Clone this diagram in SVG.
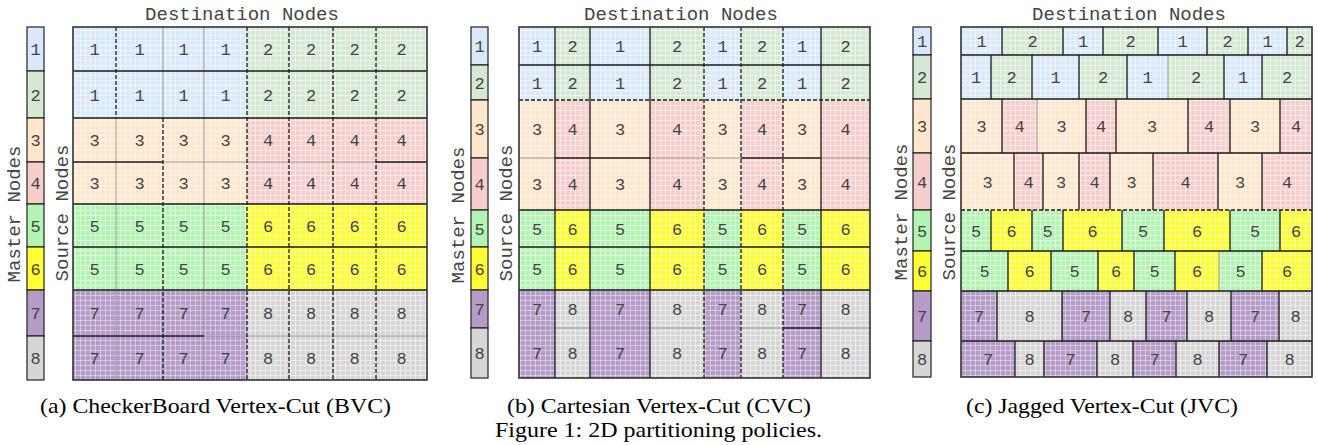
<svg xmlns="http://www.w3.org/2000/svg" width="1318" height="445" viewBox="0 0 1318 445">
<style>
.t{font-family:"Liberation Mono","DejaVu Sans Mono",monospace;font-size:17px;fill:#444;text-anchor:middle}
.h{font-family:"Liberation Mono","DejaVu Sans Mono",monospace;font-size:19px;fill:#444;text-anchor:middle}
.cap{font-family:"Liberation Serif","Times New Roman",serif;font-size:21.5px;fill:#000;text-anchor:middle}
.f1{fill:url(#p1)}.f2{fill:url(#p2)}.f3{fill:url(#p3)}.f4{fill:url(#p4)}.f5{fill:url(#p5)}.f6{fill:url(#p6)}.f7{fill:url(#p7)}.f8{fill:url(#p8)}
.m{stroke:#222;stroke-width:1.2}
.m1{fill:#dae8fc}.m2{fill:#d5e8d4}.m3{fill:#ffe6cc}.m4{fill:#f8cecc}.m5{fill:#b2f5b2}.m6{fill:#ffff33}.m7{fill:#b59cc8}.m8{fill:#d6d6d6}
.s{fill:none;stroke:#1a1a1a;stroke-width:1.3}
.d{fill:none;stroke:#1a1a1a;stroke-width:1.3;stroke-dasharray:4 2}
.g{fill:none;stroke:#9a9a9a;stroke-width:1}
.o{fill:none;stroke:#333;stroke-width:1.6}
</style>
<defs>
<pattern id="p1" width="5" height="5" patternUnits="userSpaceOnUse"><rect width="5" height="5" fill="#dae8fc"/><path d="M0 .5H5M.5 0V5" stroke="#fff" stroke-opacity=".5"/></pattern>
<pattern id="p2" width="5" height="5" patternUnits="userSpaceOnUse"><rect width="5" height="5" fill="#d5e8d4"/><path d="M0 .5H5M.5 0V5" stroke="#fff" stroke-opacity=".5"/></pattern>
<pattern id="p3" width="5" height="5" patternUnits="userSpaceOnUse"><rect width="5" height="5" fill="#ffe6cc"/><path d="M0 .5H5M.5 0V5" stroke="#fff" stroke-opacity=".5"/></pattern>
<pattern id="p4" width="5" height="5" patternUnits="userSpaceOnUse"><rect width="5" height="5" fill="#f8cecc"/><path d="M0 .5H5M.5 0V5" stroke="#fff" stroke-opacity=".5"/></pattern>
<pattern id="p5" width="5" height="5" patternUnits="userSpaceOnUse"><rect width="5" height="5" fill="#b2f5b2"/><path d="M0 .5H5M.5 0V5" stroke="#fff" stroke-opacity=".5"/></pattern>
<pattern id="p6" width="5" height="5" patternUnits="userSpaceOnUse"><rect width="5" height="5" fill="#ffff33"/><path d="M0 .5H5M.5 0V5" stroke="#fff" stroke-opacity=".5"/></pattern>
<pattern id="p7" width="5" height="5" patternUnits="userSpaceOnUse"><rect width="5" height="5" fill="#b59cc8"/><path d="M0 .5H5M.5 0V5" stroke="#fff" stroke-opacity=".4"/></pattern>
<pattern id="p8" width="5" height="5" patternUnits="userSpaceOnUse"><rect width="5" height="5" fill="#d6d6d6"/><path d="M0 .5H5M.5 0V5" stroke="#fff" stroke-opacity=".5"/></pattern>
</defs>
<rect width="1318" height="445" fill="#fff"/>

<!-- ===== Panel (a) ===== -->
<g id="panel-a">
<text class="h" x="242" y="20">Destination Nodes</text>
<text class="h" transform="translate(20,214) rotate(-90)">Master Nodes</text>
<text class="h" transform="translate(68,213) rotate(-90)">Source Nodes</text>
<g id="a-master">
<g id="a-m1"><rect class="m m1" x="27" y="27" width="17" height="44"/><text class="t" x="35.5" y="55">1</text></g>
<g id="a-m2"><rect class="m m2" x="27" y="71" width="17" height="47"/><text class="t" x="35.5" y="100.5">2</text></g>
<g id="a-m3"><rect class="m m3" x="27" y="118" width="17" height="44"/><text class="t" x="35.5" y="146">3</text></g>
<g id="a-m4"><rect class="m m4" x="27" y="162" width="17" height="42"/><text class="t" x="35.5" y="189">4</text></g>
<g id="a-m5"><rect class="m m5" x="27" y="204" width="17" height="43"/><text class="t" x="35.5" y="231.5">5</text></g>
<g id="a-m6"><rect class="m m6" x="27" y="247" width="17" height="43"/><text class="t" x="35.5" y="274.5">6</text></g>
<g id="a-m7"><rect class="m m7" x="27" y="290" width="17" height="46"/><text class="t" x="35.5" y="319">7</text></g>
<g id="a-m8"><rect class="m m8" x="27" y="336" width="17" height="44"/><text class="t" x="35.5" y="364">8</text></g>
</g>
<g id="a-cells">
<rect class="f1" x="73" y="27" width="174" height="91"/><rect class="f2" x="247" y="27" width="180" height="91"/>
<rect class="f3" x="73" y="118" width="174" height="86"/><rect class="f4" x="247" y="118" width="180" height="86"/>
<rect class="f5" x="73" y="204" width="174" height="86"/><rect class="f6" x="247" y="204" width="180" height="86"/>
<rect class="f7" x="73" y="290" width="174" height="90"/><rect class="f8" x="247" y="290" width="180" height="90"/>
</g>
<g id="a-borders">
<path class="g" d="M163 162H376M204 336H427M116 118V380M163 27V118M204 27V380"/>
<path class="s" d="M73 71H427M73 118H427M73 162H163M376 162H427M73 204H427M73 247H427M73 290H427M73 336H204"/>
<path class="d" d="M116 27V118M163 118V380M247 27V380M289 27V380M333 27V380M376 27V380"/>
<rect class="o" x="73" y="27" width="354" height="353"/>
</g>
<g id="a-labels" class="t">
<g id="a-r0"><text x="94.5" y="55">1</text><text x="139.5" y="55">1</text><text x="183.5" y="55">1</text><text x="225.5" y="55">1</text><text x="268" y="55">2</text><text x="311" y="55">2</text><text x="354.5" y="55">2</text><text x="401.5" y="55">2</text></g>
<g id="a-r1"><text x="94.5" y="100.5">1</text><text x="139.5" y="100.5">1</text><text x="183.5" y="100.5">1</text><text x="225.5" y="100.5">1</text><text x="268" y="100.5">2</text><text x="311" y="100.5">2</text><text x="354.5" y="100.5">2</text><text x="401.5" y="100.5">2</text></g>
<g id="a-r2"><text x="94.5" y="146">3</text><text x="139.5" y="146">3</text><text x="183.5" y="146">3</text><text x="225.5" y="146">3</text><text x="268" y="146">4</text><text x="311" y="146">4</text><text x="354.5" y="146">4</text><text x="401.5" y="146">4</text></g>
<g id="a-r3"><text x="94.5" y="189">3</text><text x="139.5" y="189">3</text><text x="183.5" y="189">3</text><text x="225.5" y="189">3</text><text x="268" y="189">4</text><text x="311" y="189">4</text><text x="354.5" y="189">4</text><text x="401.5" y="189">4</text></g>
<g id="a-r4"><text x="94.5" y="231.5">5</text><text x="139.5" y="231.5">5</text><text x="183.5" y="231.5">5</text><text x="225.5" y="231.5">5</text><text x="268" y="231.5">6</text><text x="311" y="231.5">6</text><text x="354.5" y="231.5">6</text><text x="401.5" y="231.5">6</text></g>
<g id="a-r5"><text x="94.5" y="274.5">5</text><text x="139.5" y="274.5">5</text><text x="183.5" y="274.5">5</text><text x="225.5" y="274.5">5</text><text x="268" y="274.5">6</text><text x="311" y="274.5">6</text><text x="354.5" y="274.5">6</text><text x="401.5" y="274.5">6</text></g>
<g id="a-r6"><text x="94.5" y="319">7</text><text x="139.5" y="319">7</text><text x="183.5" y="319">7</text><text x="225.5" y="319">7</text><text x="268" y="319">8</text><text x="311" y="319">8</text><text x="354.5" y="319">8</text><text x="401.5" y="319">8</text></g>
<g id="a-r7"><text x="94.5" y="364">7</text><text x="139.5" y="364">7</text><text x="183.5" y="364">7</text><text x="225.5" y="364">7</text><text x="268" y="364">8</text><text x="311" y="364">8</text><text x="354.5" y="364">8</text><text x="401.5" y="364">8</text></g>
</g>
<text class="cap" x="215.5" y="412.5" textLength="351" lengthAdjust="spacingAndGlyphs">(a) CheckerBoard Vertex-Cut (BVC)</text>
</g>

<!-- ===== Panel (b) ===== -->
<g id="panel-b">
<text class="h" x="681" y="20">Destination Nodes</text>
<text class="h" transform="translate(463.5,215) rotate(-90)">Master Nodes</text>
<text class="h" transform="translate(511.5,213) rotate(-90)">Source Nodes</text>
<g id="b-master">
<g id="b-m1"><rect class="m m1" x="471" y="27" width="17" height="38"/><text class="t" x="479.5" y="52">1</text></g>
<g id="b-m2"><rect class="m m2" x="471" y="65" width="17" height="35"/><text class="t" x="479.5" y="88.5">2</text></g>
<g id="b-m3"><rect class="m m3" x="471" y="100" width="17" height="58"/><text class="t" x="479.5" y="135">3</text></g>
<g id="b-m4"><rect class="m m4" x="471" y="158" width="17" height="52"/><text class="t" x="479.5" y="190">4</text></g>
<g id="b-m5"><rect class="m m5" x="471" y="210" width="17" height="37"/><text class="t" x="479.5" y="234.5">5</text></g>
<g id="b-m6"><rect class="m m6" x="471" y="247" width="17" height="43"/><text class="t" x="479.5" y="274.5">6</text></g>
<g id="b-m7"><rect class="m m7" x="471" y="290" width="17" height="38"/><text class="t" x="479.5" y="315">7</text></g>
<g id="b-m8"><rect class="m m8" x="471" y="328" width="17" height="50"/><text class="t" x="479.5" y="359">8</text></g>
</g>
<g id="b-cells">
<rect class="f1" x="519" y="27" width="36" height="73"/><rect class="f2" x="555" y="27" width="35" height="73"/><rect class="f1" x="590" y="27" width="60" height="73"/><rect class="f2" x="650" y="27" width="54" height="73"/><rect class="f1" x="704" y="27" width="37" height="73"/><rect class="f2" x="741" y="27" width="42" height="73"/><rect class="f1" x="783" y="27" width="38" height="73"/><rect class="f2" x="821" y="27" width="49" height="73"/>
<rect class="f3" x="519" y="100" width="36" height="110"/><rect class="f4" x="555" y="100" width="35" height="110"/><rect class="f3" x="590" y="100" width="60" height="110"/><rect class="f4" x="650" y="100" width="54" height="110"/><rect class="f3" x="704" y="100" width="37" height="110"/><rect class="f4" x="741" y="100" width="42" height="110"/><rect class="f3" x="783" y="100" width="38" height="110"/><rect class="f4" x="821" y="100" width="49" height="110"/>
<rect class="f5" x="519" y="210" width="36" height="80"/><rect class="f6" x="555" y="210" width="35" height="80"/><rect class="f5" x="590" y="210" width="60" height="80"/><rect class="f6" x="650" y="210" width="54" height="80"/><rect class="f5" x="704" y="210" width="37" height="80"/><rect class="f6" x="741" y="210" width="42" height="80"/><rect class="f5" x="783" y="210" width="38" height="80"/><rect class="f6" x="821" y="210" width="49" height="80"/>
<rect class="f7" x="519" y="290" width="36" height="88"/><rect class="f8" x="555" y="290" width="35" height="88"/><rect class="f7" x="590" y="290" width="60" height="88"/><rect class="f8" x="650" y="290" width="54" height="88"/><rect class="f7" x="704" y="290" width="37" height="88"/><rect class="f8" x="741" y="290" width="42" height="88"/><rect class="f7" x="783" y="290" width="38" height="88"/><rect class="f8" x="821" y="290" width="49" height="88"/>
</g>
<g id="b-borders">
<path class="g" d="M519 158H555M650 158H741M821 158H870M519 328H783M821 328H870"/>
<path class="s" d="M519 65H870M555 158H650M741 158H821M519 210H870M519 247H870M519 290H870M783 328H821M555 27V378M590 27V378M650 27V378M821 27V378"/>
<path class="d" d="M519 100H870M704 27V378M741 27V378M783 27V378"/>
<rect class="o" x="519" y="27" width="351" height="351"/>
</g>
<g id="b-labels" class="t">
<g id="b-r0"><text x="537" y="52">1</text><text x="572.5" y="52">2</text><text x="620" y="52">1</text><text x="677" y="52">2</text><text x="722.5" y="52">1</text><text x="762" y="52">2</text><text x="802" y="52">1</text><text x="845.5" y="52">2</text></g>
<g id="b-r1"><text x="537" y="88.5">1</text><text x="572.5" y="88.5">2</text><text x="620" y="88.5">1</text><text x="677" y="88.5">2</text><text x="722.5" y="88.5">1</text><text x="762" y="88.5">2</text><text x="802" y="88.5">1</text><text x="845.5" y="88.5">2</text></g>
<g id="b-r2"><text x="537" y="135">3</text><text x="572.5" y="135">4</text><text x="620" y="135">3</text><text x="677" y="135">4</text><text x="722.5" y="135">3</text><text x="762" y="135">4</text><text x="802" y="135">3</text><text x="845.5" y="135">4</text></g>
<g id="b-r3"><text x="537" y="190">3</text><text x="572.5" y="190">4</text><text x="620" y="190">3</text><text x="677" y="190">4</text><text x="722.5" y="190">3</text><text x="762" y="190">4</text><text x="802" y="190">3</text><text x="845.5" y="190">4</text></g>
<g id="b-r4"><text x="537" y="234.5">5</text><text x="572.5" y="234.5">6</text><text x="620" y="234.5">5</text><text x="677" y="234.5">6</text><text x="722.5" y="234.5">5</text><text x="762" y="234.5">6</text><text x="802" y="234.5">5</text><text x="845.5" y="234.5">6</text></g>
<g id="b-r5"><text x="537" y="274.5">5</text><text x="572.5" y="274.5">6</text><text x="620" y="274.5">5</text><text x="677" y="274.5">6</text><text x="722.5" y="274.5">5</text><text x="762" y="274.5">6</text><text x="802" y="274.5">5</text><text x="845.5" y="274.5">6</text></g>
<g id="b-r6"><text x="537" y="315">7</text><text x="572.5" y="315">8</text><text x="620" y="315">7</text><text x="677" y="315">8</text><text x="722.5" y="315">7</text><text x="762" y="315">8</text><text x="802" y="315">7</text><text x="845.5" y="315">8</text></g>
<g id="b-r7"><text x="537" y="359">7</text><text x="572.5" y="359">8</text><text x="620" y="359">7</text><text x="677" y="359">8</text><text x="722.5" y="359">7</text><text x="762" y="359">8</text><text x="802" y="359">7</text><text x="845.5" y="359">8</text></g>
</g>
<text class="cap" x="659" y="412.5" textLength="304" lengthAdjust="spacingAndGlyphs">(b) Cartesian Vertex-Cut (CVC)</text>
<text class="cap" x="658.5" y="436.5" textLength="327" lengthAdjust="spacingAndGlyphs">Figure 1: 2D partitioning policies.</text>
</g>

<!-- ===== Panel (c) ===== -->
<g id="panel-c">
<text class="h" x="1129" y="20">Destination Nodes</text>
<text class="h" transform="translate(906.5,212) rotate(-90)">Master Nodes</text>
<text class="h" transform="translate(955,212) rotate(-90)">Source Nodes</text>
<g id="c-master">
<g id="c-m1"><rect class="m m1" x="913" y="27" width="18" height="28"/><text class="t" x="922" y="47">1</text></g>
<g id="c-m2"><rect class="m m2" x="913" y="55" width="18" height="44"/><text class="t" x="922" y="83">2</text></g>
<g id="c-m3"><rect class="m m3" x="913" y="99" width="18" height="54"/><text class="t" x="922" y="132">3</text></g>
<g id="c-m4"><rect class="m m4" x="913" y="153" width="18" height="57"/><text class="t" x="922" y="187.5">4</text></g>
<g id="c-m5"><rect class="m m5" x="913" y="210" width="18" height="41"/><text class="t" x="922" y="236.5">5</text></g>
<g id="c-m6"><rect class="m m6" x="913" y="251" width="18" height="40"/><text class="t" x="922" y="277">6</text></g>
<g id="c-m7"><rect class="m m7" x="913" y="291" width="18" height="50"/><text class="t" x="922" y="322">7</text></g>
<g id="c-m8"><rect class="m m8" x="913" y="341" width="18" height="36"/><text class="t" x="922" y="365">8</text></g>
</g>
<g id="c-cells">
<rect class="f1" x="961" y="27" width="41" height="28"/><rect class="f2" x="1002" y="27" width="61" height="28"/><rect class="f1" x="1063" y="27" width="40" height="28"/><rect class="f2" x="1103" y="27" width="55" height="28"/><rect class="f1" x="1158" y="27" width="49" height="28"/><rect class="f2" x="1207" y="27" width="41" height="28"/><rect class="f1" x="1248" y="27" width="39" height="28"/><rect class="f2" x="1287" y="27" width="25" height="28"/>
<rect class="f1" x="961" y="55" width="30" height="44"/><rect class="f2" x="991" y="55" width="41" height="44"/><rect class="f1" x="1032" y="55" width="47" height="44"/><rect class="f2" x="1079" y="55" width="48" height="44"/><rect class="f1" x="1127" y="55" width="41" height="44"/><rect class="f2" x="1168" y="55" width="56" height="44"/><rect class="f1" x="1224" y="55" width="38" height="44"/><rect class="f2" x="1262" y="55" width="50" height="44"/>
<rect class="f3" x="961" y="99" width="41" height="54"/><rect class="f4" x="1002" y="99" width="35" height="54"/><rect class="f3" x="1037" y="99" width="49" height="54"/><rect class="f4" x="1086" y="99" width="30" height="54"/><rect class="f3" x="1116" y="99" width="72" height="54"/><rect class="f4" x="1188" y="99" width="42" height="54"/><rect class="f3" x="1230" y="99" width="50" height="54"/><rect class="f4" x="1280" y="99" width="32" height="54"/>
<rect class="f3" x="961" y="153" width="53" height="57"/><rect class="f4" x="1014" y="153" width="29" height="57"/><rect class="f3" x="1043" y="153" width="36" height="57"/><rect class="f4" x="1079" y="153" width="31" height="57"/><rect class="f3" x="1110" y="153" width="43" height="57"/><rect class="f4" x="1153" y="153" width="65" height="57"/><rect class="f3" x="1218" y="153" width="44" height="57"/><rect class="f4" x="1262" y="153" width="50" height="57"/>
<rect class="f5" x="961" y="210" width="30" height="41"/><rect class="f6" x="991" y="210" width="41" height="41"/><rect class="f5" x="1032" y="210" width="31" height="41"/><rect class="f6" x="1063" y="210" width="59" height="41"/><rect class="f5" x="1122" y="210" width="42" height="41"/><rect class="f6" x="1164" y="210" width="66" height="41"/><rect class="f5" x="1230" y="210" width="50" height="41"/><rect class="f6" x="1280" y="210" width="32" height="41"/>
<rect class="f5" x="961" y="251" width="47" height="40"/><rect class="f6" x="1008" y="251" width="43" height="40"/><rect class="f5" x="1051" y="251" width="47" height="40"/><rect class="f6" x="1098" y="251" width="36" height="40"/><rect class="f5" x="1134" y="251" width="41" height="40"/><rect class="f6" x="1175" y="251" width="44" height="40"/><rect class="f5" x="1219" y="251" width="43" height="40"/><rect class="f6" x="1262" y="251" width="50" height="40"/>
<rect class="f7" x="961" y="291" width="36" height="50"/><rect class="f8" x="997" y="291" width="65" height="50"/><rect class="f7" x="1062" y="291" width="48" height="50"/><rect class="f8" x="1110" y="291" width="36" height="50"/><rect class="f7" x="1146" y="291" width="41" height="50"/><rect class="f8" x="1187" y="291" width="44" height="50"/><rect class="f7" x="1231" y="291" width="48" height="50"/><rect class="f8" x="1279" y="291" width="33" height="50"/>
<rect class="f7" x="961" y="341" width="54" height="36"/><rect class="f8" x="1015" y="341" width="29" height="36"/><rect class="f7" x="1044" y="341" width="53" height="36"/><rect class="f8" x="1097" y="341" width="36" height="36"/><rect class="f7" x="1133" y="341" width="43" height="36"/><rect class="f8" x="1176" y="341" width="43" height="36"/><rect class="f7" x="1219" y="341" width="48" height="36"/><rect class="f8" x="1267" y="341" width="45" height="36"/>
</g>
<g id="c-borders">
<path class="g" d="M1168 55V99M1037 99V153M1219 251V291"/>
<path class="s" d="M961 55H1312M961 99H1312M961 153H1312M961 251H1312M961 291H1312M961 341H1312
M1002 27V55M1063 27V55M1103 27V55M1158 27V55M1207 27V55M1248 27V55M1287 27V55
M991 55V99M1032 55V99M1079 55V99M1127 55V99M1224 55V99M1262 55V99
M1002 99V153M1086 99V153M1116 99V153M1188 99V153M1230 99V153M1280 99V153
M1014 153V210M1043 153V210M1079 153V210M1110 153V210M1153 153V210M1218 153V210M1262 153V210
M991 210V251M1032 210V251M1063 210V251M1122 210V251M1164 210V251M1230 210V251M1280 210V251
M1008 251V291M1051 251V291M1098 251V291M1134 251V291M1175 251V291M1262 251V291
M997 291V341M1062 291V341M1110 291V341M1146 291V341M1187 291V341M1231 291V341M1279 291V341
M1015 341V377M1044 341V377M1097 341V377M1133 341V377M1176 341V377M1219 341V377M1267 341V377"/>
<path class="d" d="M961 210H1312"/>
<rect class="o" x="961" y="27" width="351" height="350"/>
</g>
<g id="c-labels" class="t">
<g id="c-r0"><text x="981.5" y="47">1</text><text x="1032.5" y="47">2</text><text x="1083" y="47">1</text><text x="1130.5" y="47">2</text><text x="1182.5" y="47">1</text><text x="1227.5" y="47">2</text><text x="1267.5" y="47">1</text><text x="1299.5" y="47">2</text></g>
<g id="c-r1"><text x="976" y="83">1</text><text x="1011.5" y="83">2</text><text x="1055.5" y="83">1</text><text x="1103" y="83">2</text><text x="1147.5" y="83">1</text><text x="1196" y="83">2</text><text x="1243" y="83">1</text><text x="1287" y="83">2</text></g>
<g id="c-r2"><text x="981.5" y="132">3</text><text x="1019.5" y="132">4</text><text x="1061.5" y="132">3</text><text x="1101" y="132">4</text><text x="1152" y="132">3</text><text x="1209" y="132">4</text><text x="1255" y="132">3</text><text x="1296" y="132">4</text></g>
<g id="c-r3"><text x="987.5" y="187.5">3</text><text x="1028.5" y="187.5">4</text><text x="1061" y="187.5">3</text><text x="1094.5" y="187.5">4</text><text x="1131.5" y="187.5">3</text><text x="1185.5" y="187.5">4</text><text x="1240" y="187.5">3</text><text x="1287" y="187.5">4</text></g>
<g id="c-r4"><text x="976" y="236.5">5</text><text x="1011.5" y="236.5">6</text><text x="1047.5" y="236.5">5</text><text x="1092.5" y="236.5">6</text><text x="1143" y="236.5">5</text><text x="1197" y="236.5">6</text><text x="1255" y="236.5">5</text><text x="1296" y="236.5">6</text></g>
<g id="c-r5"><text x="984.5" y="277">5</text><text x="1029.5" y="277">6</text><text x="1074.5" y="277">5</text><text x="1116" y="277">6</text><text x="1154.5" y="277">5</text><text x="1197" y="277">6</text><text x="1240.5" y="277">5</text><text x="1287" y="277">6</text></g>
<g id="c-r6"><text x="979" y="322">7</text><text x="1029.5" y="322">8</text><text x="1086" y="322">7</text><text x="1128" y="322">8</text><text x="1166.5" y="322">7</text><text x="1209" y="322">8</text><text x="1255" y="322">7</text><text x="1295.5" y="322">8</text></g>
<g id="c-r7"><text x="988" y="365">7</text><text x="1029.5" y="365">8</text><text x="1070.5" y="365">7</text><text x="1115" y="365">8</text><text x="1154.5" y="365">7</text><text x="1197.5" y="365">8</text><text x="1243" y="365">7</text><text x="1289.5" y="365">8</text></g>
</g>
<text class="cap" x="1102" y="412.5" textLength="272" lengthAdjust="spacingAndGlyphs">(c) Jagged Vertex-Cut (JVC)</text>
</g>
</svg>
